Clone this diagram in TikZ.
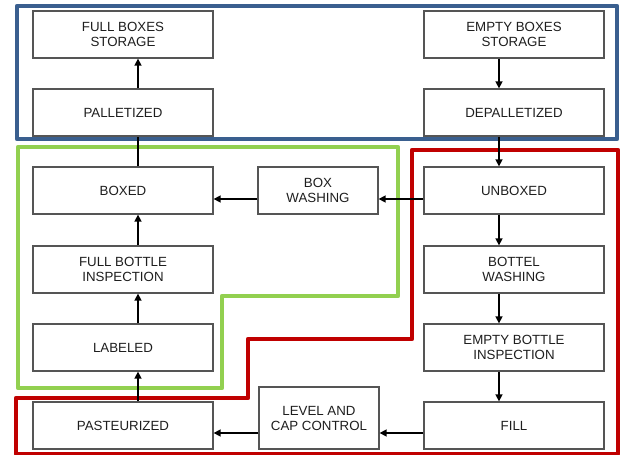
\documentclass[tikz,border=0pt]{standalone}
\usepackage{fontspec}
\setmainfont{Liberation Sans}
\usetikzlibrary{arrows.meta}
\definecolor{frblue}{HTML}{3A5F8F}
\definecolor{frgreen}{HTML}{92D050}
\definecolor{frred}{HTML}{C00000}
\definecolor{boxline}{HTML}{555555}
\definecolor{txt}{HTML}{1E1E1E}
\tikzset{
  stepbox/.style={draw=boxline, line width=1.3pt, fill=white, minimum width=180pt, minimum height=47pt,
    inner sep=0pt, align=center, font=\fontsize{13.3}{15}\selectfont, text=txt},
  smallbox/.style={stepbox, minimum width=120pt},
  arr/.style={line width=1.5pt, -{Triangle[length=7pt,width=7pt]}},
  link/.style={line width=1.5pt},
  frame/.style={line width=4.5pt, line join=round}
}
\begin{document}
\begin{tikzpicture}[x=1pt,y=-1pt]
\useasboundingbox (0,0) rectangle (622,455);
\fill[white] (0,0) rectangle (622,455);
% frames
\draw[frame, frblue] (17,6) rectangle (617,139);
\draw[frame, frgreen] (18,147) -- (398,147) -- (398,296) -- (222,296) -- (222,388) -- (18,388) -- cycle;
\draw[frame, frred] (412,150) -- (618,150) -- (618,454) -- (16,454) -- (16,398) -- (248,398) -- (248,339) -- (412,339) -- cycle;
% left column
\node[stepbox] (fbs) at (123,34.5) {FULL BOXES\\STORAGE};
\node[stepbox] (pal) at (123,112.5) {PALLETIZED};
\node[stepbox] (box) at (123,190.5) {BOXED};
\node[stepbox] (fbi) at (123,269.5) {FULL BOTTLE\\INSPECTION};
\node[stepbox] (lab) at (123,347.5) {LABELED};
\node[stepbox] (pas) at (123,425.5) {PASTEURIZED};
% right column
\node[stepbox] (ebs) at (514,34.5) {EMPTY BOXES\\STORAGE};
\node[stepbox] (dep) at (514,112.5) {DEPALLETIZED};
\node[stepbox] (unb) at (514,190.5) {UNBOXED};
\node[stepbox] (bot) at (514,269.5) {BOTTEL\\WASHING};
\node[stepbox] (ebi) at (514,347.5) {EMPTY BOTTLE\\INSPECTION};
\node[stepbox] (fil) at (514,425.5) {FILL};
% middle
\node[smallbox] (bwa) at (318,190.5) {BOX\\WASHING};
\node[smallbox, minimum height=62pt] (lcc) at (319,418) {LEVEL AND\\CAP CONTROL};
% connectors
\draw[arr] ([xshift=15pt]pal.north) -- ([xshift=15pt]fbs.south);
\draw[link] ([xshift=15pt]box.north) -- ([xshift=15pt]pal.south);
\draw[arr] ([xshift=15pt]fbi.north) -- ([xshift=15pt]box.south);
\draw[arr] ([xshift=15pt]lab.north) -- ([xshift=15pt]fbi.south);
\draw[arr] ([xshift=15pt]pas.north) -- ([xshift=15pt]lab.south);
\draw[arr] ([xshift=-15pt]ebs.south) -- ([xshift=-15pt]dep.north);
\draw[arr] ([xshift=-15pt]dep.south) -- ([xshift=-15pt]unb.north);
\draw[arr] ([xshift=-15pt]unb.south) -- ([xshift=-15pt]bot.north);
\draw[arr] ([xshift=-15pt]bot.south) -- ([xshift=-15pt]ebi.north);
\draw[arr] ([xshift=-15pt]ebi.south) -- ([xshift=-15pt]fil.north);
\draw[arr] ([yshift=-8.5pt]unb.west) -- ([yshift=-8.5pt]bwa.east);
\draw[arr] ([yshift=-8.5pt]bwa.west) -- ([yshift=-8.5pt]box.east);
\draw[arr] ([yshift=-7.5pt]fil.west) -- ([yshift=-7.5pt]fil.west -| lcc.east);
\draw[arr] ([yshift=-7.5pt]pas.east -| lcc.west) -- ([yshift=-7.5pt]pas.east);
\end{tikzpicture}
\end{document}
